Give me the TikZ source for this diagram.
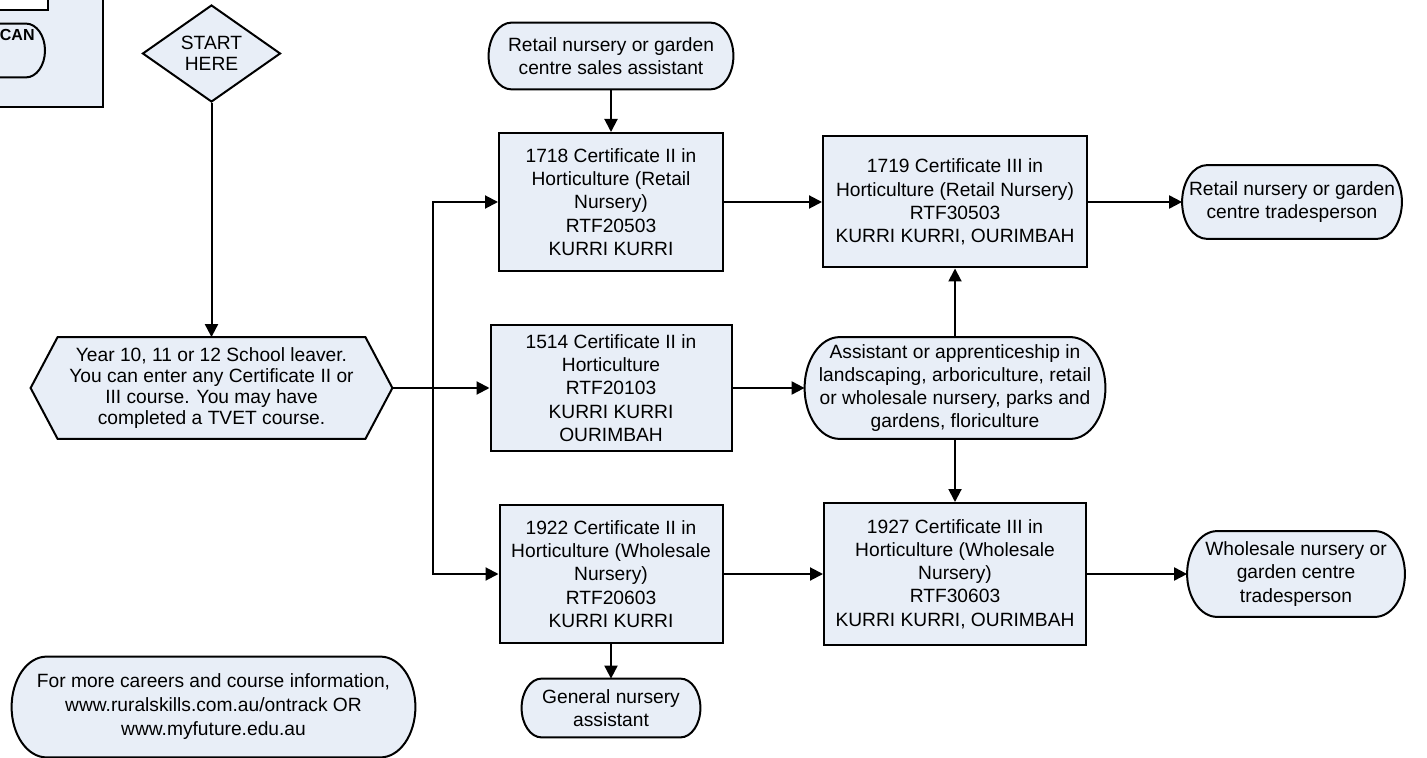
\documentclass[tikz,border=0pt]{standalone}
\usepackage{fontspec}
\setmainfont{Liberation Sans}
\usepackage{tikz}
\usetikzlibrary{positioning,arrows.meta,shapes.geometric,calc,backgrounds}
\definecolor{boxfill}{RGB}{232,238,247}

% terminator outline round a named node, #2 = depth of the rounded ends
\newcommand{\pillpath}[2]{%
  \path[outline] ($(#1.north west)+(#2,0)$) -- ($(#1.north east)+(-#2,0)$)
    .. controls ($(#1.north east)+(-0.448*#2,0)$) and ($(#1.east)!0.552!(#1.north east)$) .. (#1.east)
    .. controls ($(#1.east)!0.552!(#1.south east)$) and ($(#1.south east)+(-0.448*#2,0)$) .. ($(#1.south east)+(-#2,0)$)
    -- ($(#1.south west)+(#2,0)$)
    .. controls ($(#1.south west)+(0.448*#2,0)$) and ($(#1.west)!0.552!(#1.south west)$) .. (#1.west)
    .. controls ($(#1.west)!0.552!(#1.north west)$) and ($(#1.north west)+(0.448*#2,0)$) .. ($(#1.north west)+(#2,0)$) -- cycle;}

\begin{document}
\begin{tikzpicture}[x=0.5pt, y=-0.5pt,
  box/.style={draw, fill=boxfill, line width=1pt, align=center, inner sep=1pt, font=\fontsize{9.6}{11.6}\selectfont},
  pill/.style={align=center, inner sep=0pt, font=\fontsize{9.6}{11.6}\selectfont},
  outline/.style={draw, fill=boxfill, line width=1pt},
  arr/.style={-{Triangle[length=6.5pt, width=6.5pt]}, line width=1pt},
]
\useasboundingbox (0,0) rectangle (1427,758);

% Start and school leaver
\node[diamond, draw, fill=boxfill, line width=1pt, minimum width=69pt, minimum height=48.5pt, inner sep=0pt, aspect=1.42, align=center, font=\fontsize{9.6}{10.5}\selectfont] (start) at (211.5,53.5) {START\\HERE};
\node[pill, minimum width=153.5pt, minimum height=50.5pt, font=\fontsize{9.6}{10.5}\selectfont] (leaver) at (211.5,388) {Year 10, 11 or 12 School leaver.\\You can enter any Certificate II or\\III course. You may have\\completed a TVET course.};
\coordinate (leaverE) at ($(leaver.east)+(27,0)$);
\coordinate (leaverW) at ($(leaver.west)+(-27,0)$);
\coordinate (jn) at (433,388);

% Certificate II
\node[box, minimum width=112pt, minimum height=69pt] (c1718) at (611,202) {1718 Certificate II in\\Horticulture (Retail\\Nursery)\\RTF20503\\KURRI KURRI};
\node[box, minimum width=120.5pt, minimum height=62.5pt] (c1514) at (611,388) {1514 Certificate II in\\Horticulture\\RTF20103\\KURRI KURRI\\OURIMBAH};
\node[box, minimum width=111.5pt, minimum height=69pt] (c1922) at (611,574) {1922 Certificate II in\\Horticulture (Wholesale\\Nursery)\\RTF20603\\KURRI KURRI};

% Certificate III
\node[box, minimum width=132pt, minimum height=65.5pt] (c1719) at (955,202) {1719 Certificate III in\\Horticulture (Retail Nursery)\\RTF30503\\KURRI KURRI, OURIMBAH};
\node[box, minimum width=131pt, minimum height=71pt] (c1927) at (955,574) {1927 Certificate III in\\Horticulture (Wholesale\\Nursery)\\RTF30603\\KURRI KURRI, OURIMBAH};

% Jobs
\node[pill, minimum width=122pt, minimum height=33pt] (sales) at (611,56) {Retail nursery or garden\\centre sales assistant};
\node[pill, minimum width=89pt, minimum height=29pt] (general) at (611,708) {General nursery\\assistant};
\node[pill, minimum width=150pt, minimum height=50.5pt] (assist) at (955,388) {Assistant or apprenticeship in\\landscaping, arboriculture, retail\\or wholesale nursery, parks and\\gardens, floriculture};
\node[pill, minimum width=109.5pt, minimum height=36.5pt] (rtrade) at (1292,202) {Retail nursery or garden\\centre tradesperson};
\node[pill, minimum width=108.5pt, minimum height=42.5pt] (wtrade) at (1296,574) {Wholesale nursery or\\garden centre\\tradesperson};
\node[pill, minimum width=201.5pt, minimum height=50pt, font=\fontsize{9.6}{12}\selectfont] (info) at (213.5,707) {For more careers and course information,\\www.ruralskills.com.au/ontrack OR\\www.myfuture.edu.au};

% Legend (cut off at the edge)
\node[pill, minimum width=70pt, minimum height=26.5pt, anchor=east] (legpill) at (45,50.5) {};
\node[font=\fontsize{8}{9.6}\selectfont\bfseries, anchor=east, inner sep=0pt] (legcan) at (35,35) {CAN};

% Outlines behind the texts
\begin{scope}[on background layer]
  \draw[fill=boxfill, line width=1pt] (-20,-20) rectangle (103,107);
  \draw[fill=white, line width=1pt] (-20,-20) rectangle (48,10);
  \foreach \p/\b in {legpill/19, sales/23, general/20, assist/35, rtrade/25, wtrade/30, info/35} {
    \pillpath{\p}{\b}
  }
  \path[outline] (leaver.north west) -- (leaver.north east) -- (leaverE) -- (leaver.south east) -- (leaver.south west) -- (leaverW) -- cycle;
\end{scope}

% Connectors
\draw[arr] (start.south) -- (leaver.north);
\draw[arr] (leaverE) -- (c1514.west);
\draw[arr] (jn) |- (c1718.west);
\draw[arr] (jn) |- (c1922.west);
\foreach \a/\b in {sales/c1718, c1922/general, c1718/c1719, c1514/assist, c1922/c1927, assist/c1719, assist/c1927, c1719/rtrade, c1927/wtrade} {
  \draw[arr] (\a) -- (\b);
}
\end{tikzpicture}
\end{document}
